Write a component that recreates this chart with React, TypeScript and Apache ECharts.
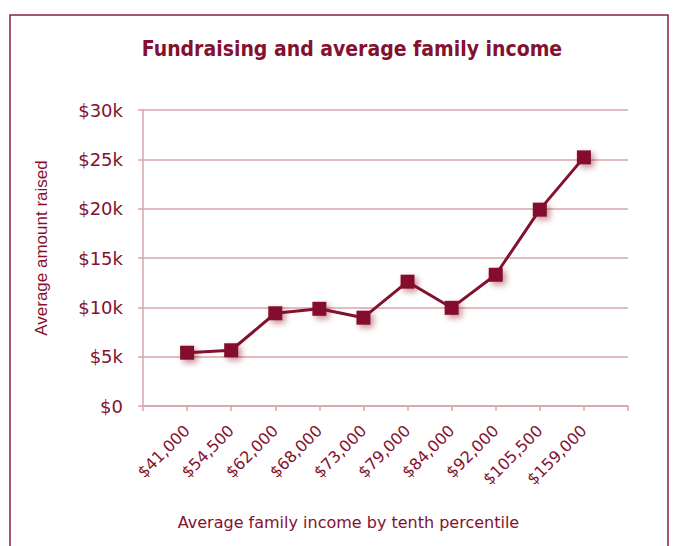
import React, { useEffect, useRef } from "react";
import * as echarts from "echarts";

const incomeLabels = ["$41,000", "$54,500", "$62,000", "$68,000", "$73,000", "$79,000", "$84,000", "$92,000", "$105,500", "$159,000"];
const amountRaised = [5400, 5650, 9400, 9850, 8950, 12600, 9950, 13300, 19900, 25200];
const yTicks = { min: 0, max: 30000, interval: 5000 };

const RED = "#84112f";
const GRID = "#d8a4a9";
const FONT = "'DejaVu Sans Condensed', 'Liberation Sans', sans-serif";
const FONT2 = "'DejaVu Sans', sans-serif";
const FONT3 = "'Liberation Sans', Arial, sans-serif";

export default function App() {
  const ref = useRef<HTMLDivElement>(null);
  useEffect(() => {
    document.body.style.margin = "0";
    const chart = echarts.init(ref.current!, null, { renderer: "svg" });
    const data = amountRaised.map((v, i) => [i + 1, v]);
    chart.setOption({
      animation: false,
      backgroundColor: "#ffffff",
      title: {
        text: "Fundraising and average family income",
        left: 347,
        textAlign: "center",
        top: 33,
        textStyle: { color: RED, fontSize: 21, fontWeight: "bold", fontFamily: FONT },
      },
      graphic: [
        {
          type: "rect",
          shape: { x: 10, y: 15, width: 658, height: 600 },
          style: { fill: "none", stroke: "#8a2040", lineWidth: 1.5 },
          silent: true,
        },
      ],
      grid: { left: 143, right: 55, top: 110, bottom: 140 },
      xAxis: {
        type: "value",
        min: 0,
        max: incomeLabels.length + 1,
        interval: 1,
        name: "Average family income by tenth percentile",
        nameLocation: "middle",
        nameGap: 108,
        nameTextStyle: { color: RED, fontSize: 16, fontFamily: FONT2, padding: [0, 74, 0, 0] },
        axisLine: { show: true, lineStyle: { color: GRID, width: 1.5 } },
        axisTick: { show: true, length: 5, lineStyle: { color: GRID, width: 1.5 } },
        splitLine: { show: false },
        axisLabel: {
          rotate: 45,
          margin: 22,
          color: RED,
          fontSize: 16,
          fontFamily: FONT2,
          formatter: (v: number) => incomeLabels[v - 1] ?? "",
        },
      },
      yAxis: {
        type: "value",
        min: yTicks.min,
        max: yTicks.max,
        interval: yTicks.interval,
        name: "Average amount raised",
        nameLocation: "middle",
        nameGap: 93,
        nameTextStyle: { color: RED, fontSize: 17, fontFamily: FONT3, padding: [0, 0, 0, 20] },
        axisLine: { show: true, lineStyle: { color: GRID, width: 1.5 } },
        axisTick: { show: true, length: 5, lineStyle: { color: GRID, width: 1.5 } },
        splitLine: { show: true, lineStyle: { color: GRID, width: 1.5 } },
        axisLabel: {
          color: RED,
          fontSize: 18,
          margin: 20,
          fontFamily: FONT2,
          formatter: (v: number) => (v === 0 ? "$0" : `$${v / 1000}k`),
        },
      },
      series: [
        {
          type: "line",
          data,
          symbol: "rect",
          symbolSize: 14,
          lineStyle: { color: RED, width: 3 },
          itemStyle: {
            color: RED,
            shadowBlur: 6,
            shadowColor: "rgba(130,0,30,0.45)",
            shadowOffsetX: 3,
            shadowOffsetY: 3,
          },
        },
      ],
    });
    return () => chart.dispose();
  }, []);
  return <div ref={ref} style={{ width: 683, height: 546 }} />;
}
